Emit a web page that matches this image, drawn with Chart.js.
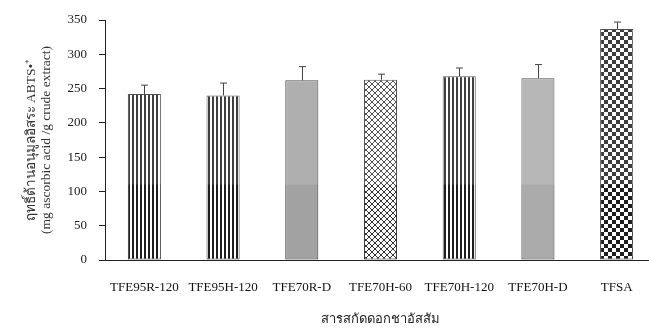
<!DOCTYPE html>
<html>
<head>
<meta charset="utf-8">
<script src="https://cdn.jsdelivr.net/npm/chart.js@4"></script>
<style>
  html, body { margin: 0; padding: 0; background: #fff; overflow: hidden; }
  #wrap { width: 656px; height: 334px; }
</style>
</head>
<body>
<div id="wrap"><canvas id="c"></canvas></div>
<script>
const categories = ['TFE95R-120', 'TFE95H-120', 'TFE70R-D', 'TFE70H-60', 'TFE70H-120', 'TFE70H-D', 'TFSA'];
const values = [242, 240, 262, 263, 268, 265, 337];
const errors = [13, 18, 20, 8, 12, 20, 10];
const yMin = 0, yMax = 350, yStep = 50;

function makePattern(size, draw) {
  const c = document.createElement('canvas');
  c.width = size; c.height = size;
  const g = c.getContext('2d');
  g.fillStyle = '#fff';
  g.fillRect(0, 0, size, size);
  draw(g);
  return g.createPattern(c, 'repeat');
}

const stripes = makePattern(4, g => {
  g.fillStyle = '#1e1e1e';
  g.fillRect(0, 0, 2, 4);
});
const diamonds = makePattern(6, g => {
  g.strokeStyle = '#333';
  g.lineWidth = 1;
  g.beginPath();
  g.moveTo(0, 0); g.lineTo(6, 6);
  g.moveTo(6, 0); g.lineTo(0, 6);
  g.stroke();
});
const checks = makePattern(8, g => {
  g.fillStyle = '#1e1e1e';
  g.fillRect(0, 0, 4, 4);
  g.fillRect(4, 4, 4, 4);
});

const fills = [stripes, stripes, '#a2a2a2', diamonds, stripes, '#ababab', checks];

// the faded upper half of the bars in the scan
const fadeTop = 110;

const errorBars = {
  id: 'errorBars',
  afterDatasetsDraw(chart) {
    const ctx = chart.ctx;
    const y = chart.scales.y;
    const area = chart.chartArea;
    const meta = chart.getDatasetMeta(0);
    ctx.save();
    ctx.fillStyle = 'rgba(255,255,255,0.15)';
    const fy = y.getPixelForValue(fadeTop);
    ctx.fillRect(area.left + 1, area.top - 20, area.right - area.left, fy - area.top + 20);
    ctx.strokeStyle = '#444';
    ctx.lineWidth = 1;
    meta.data.forEach((bar, i) => {
      const x = Math.round(bar.x) + 0.5;
      const top = y.getPixelForValue(values[i] + errors[i]);
      ctx.beginPath();
      ctx.moveTo(x, bar.y);
      ctx.lineTo(x, top);
      ctx.moveTo(x - 3.5, top);
      ctx.lineTo(x + 3.5, top);
      ctx.stroke();
    });
    ctx.restore();
  }
};

new Chart(document.getElementById('c'), {
  type: 'bar',
  data: {
    labels: categories,
    datasets: [{
      data: values,
      backgroundColor: fills,
      borderColor: '#333',
      borderWidth: 1,
      borderSkipped: false,
      categoryPercentage: 1,
      barPercentage: 0.42
    }]
  },
  options: {
    responsive: true,
    maintainAspectRatio: false,
    animation: false,
    layout: { padding: { top: 20, left: 0, right: 0, bottom: 7 } },
    plugins: {
      legend: { display: false },
      tooltip: { enabled: false }
    },
    scales: {
      x: {
        grid: { display: false, drawTicks: false },
        border: { display: true, color: '#222', width: 1 },
        ticks: {
          color: '#111',
          padding: 20,
          maxRotation: 0,
          autoSkip: false,
          font: { family: "'Liberation Serif', serif", size: 13 }
        },
        title: {
          display: true,
          text: 'สารสกัดดอกชาอัสสัม',
          color: '#222',
          padding: { top: 8, bottom: 0 },
          font: { family: "'Noto Sans', sans-serif", size: 13 }
        },
        afterFit(scale) { scale.height = 67; }
      },
      y: {
        min: yMin,
        max: yMax,
        grid: { drawOnChartArea: false, drawTicks: true, tickLength: 6, color: '#222' },
        border: { display: true, color: '#222', width: 1 },
        ticks: {
          stepSize: yStep,
          color: '#222',
          padding: 12,
          font: { family: "'Liberation Serif', serif", size: 13 }
        },
        title: {
          display: true,
          text: ['ฤทธิ์ต้านอนุมูลอิสระ ABTS•⁺', '(mg ascorbic acid /g crude extract)'],
          color: '#333',
          padding: { top: 24, bottom: 0 },
          font: { family: "'Liberation Serif', serif", size: 13.5, lineHeight: 1.1 }
        },
        afterFit(scale) { scale.width = 105; }
      }
    }
  },
  plugins: [errorBars]
});
</script>
</body>
</html>
